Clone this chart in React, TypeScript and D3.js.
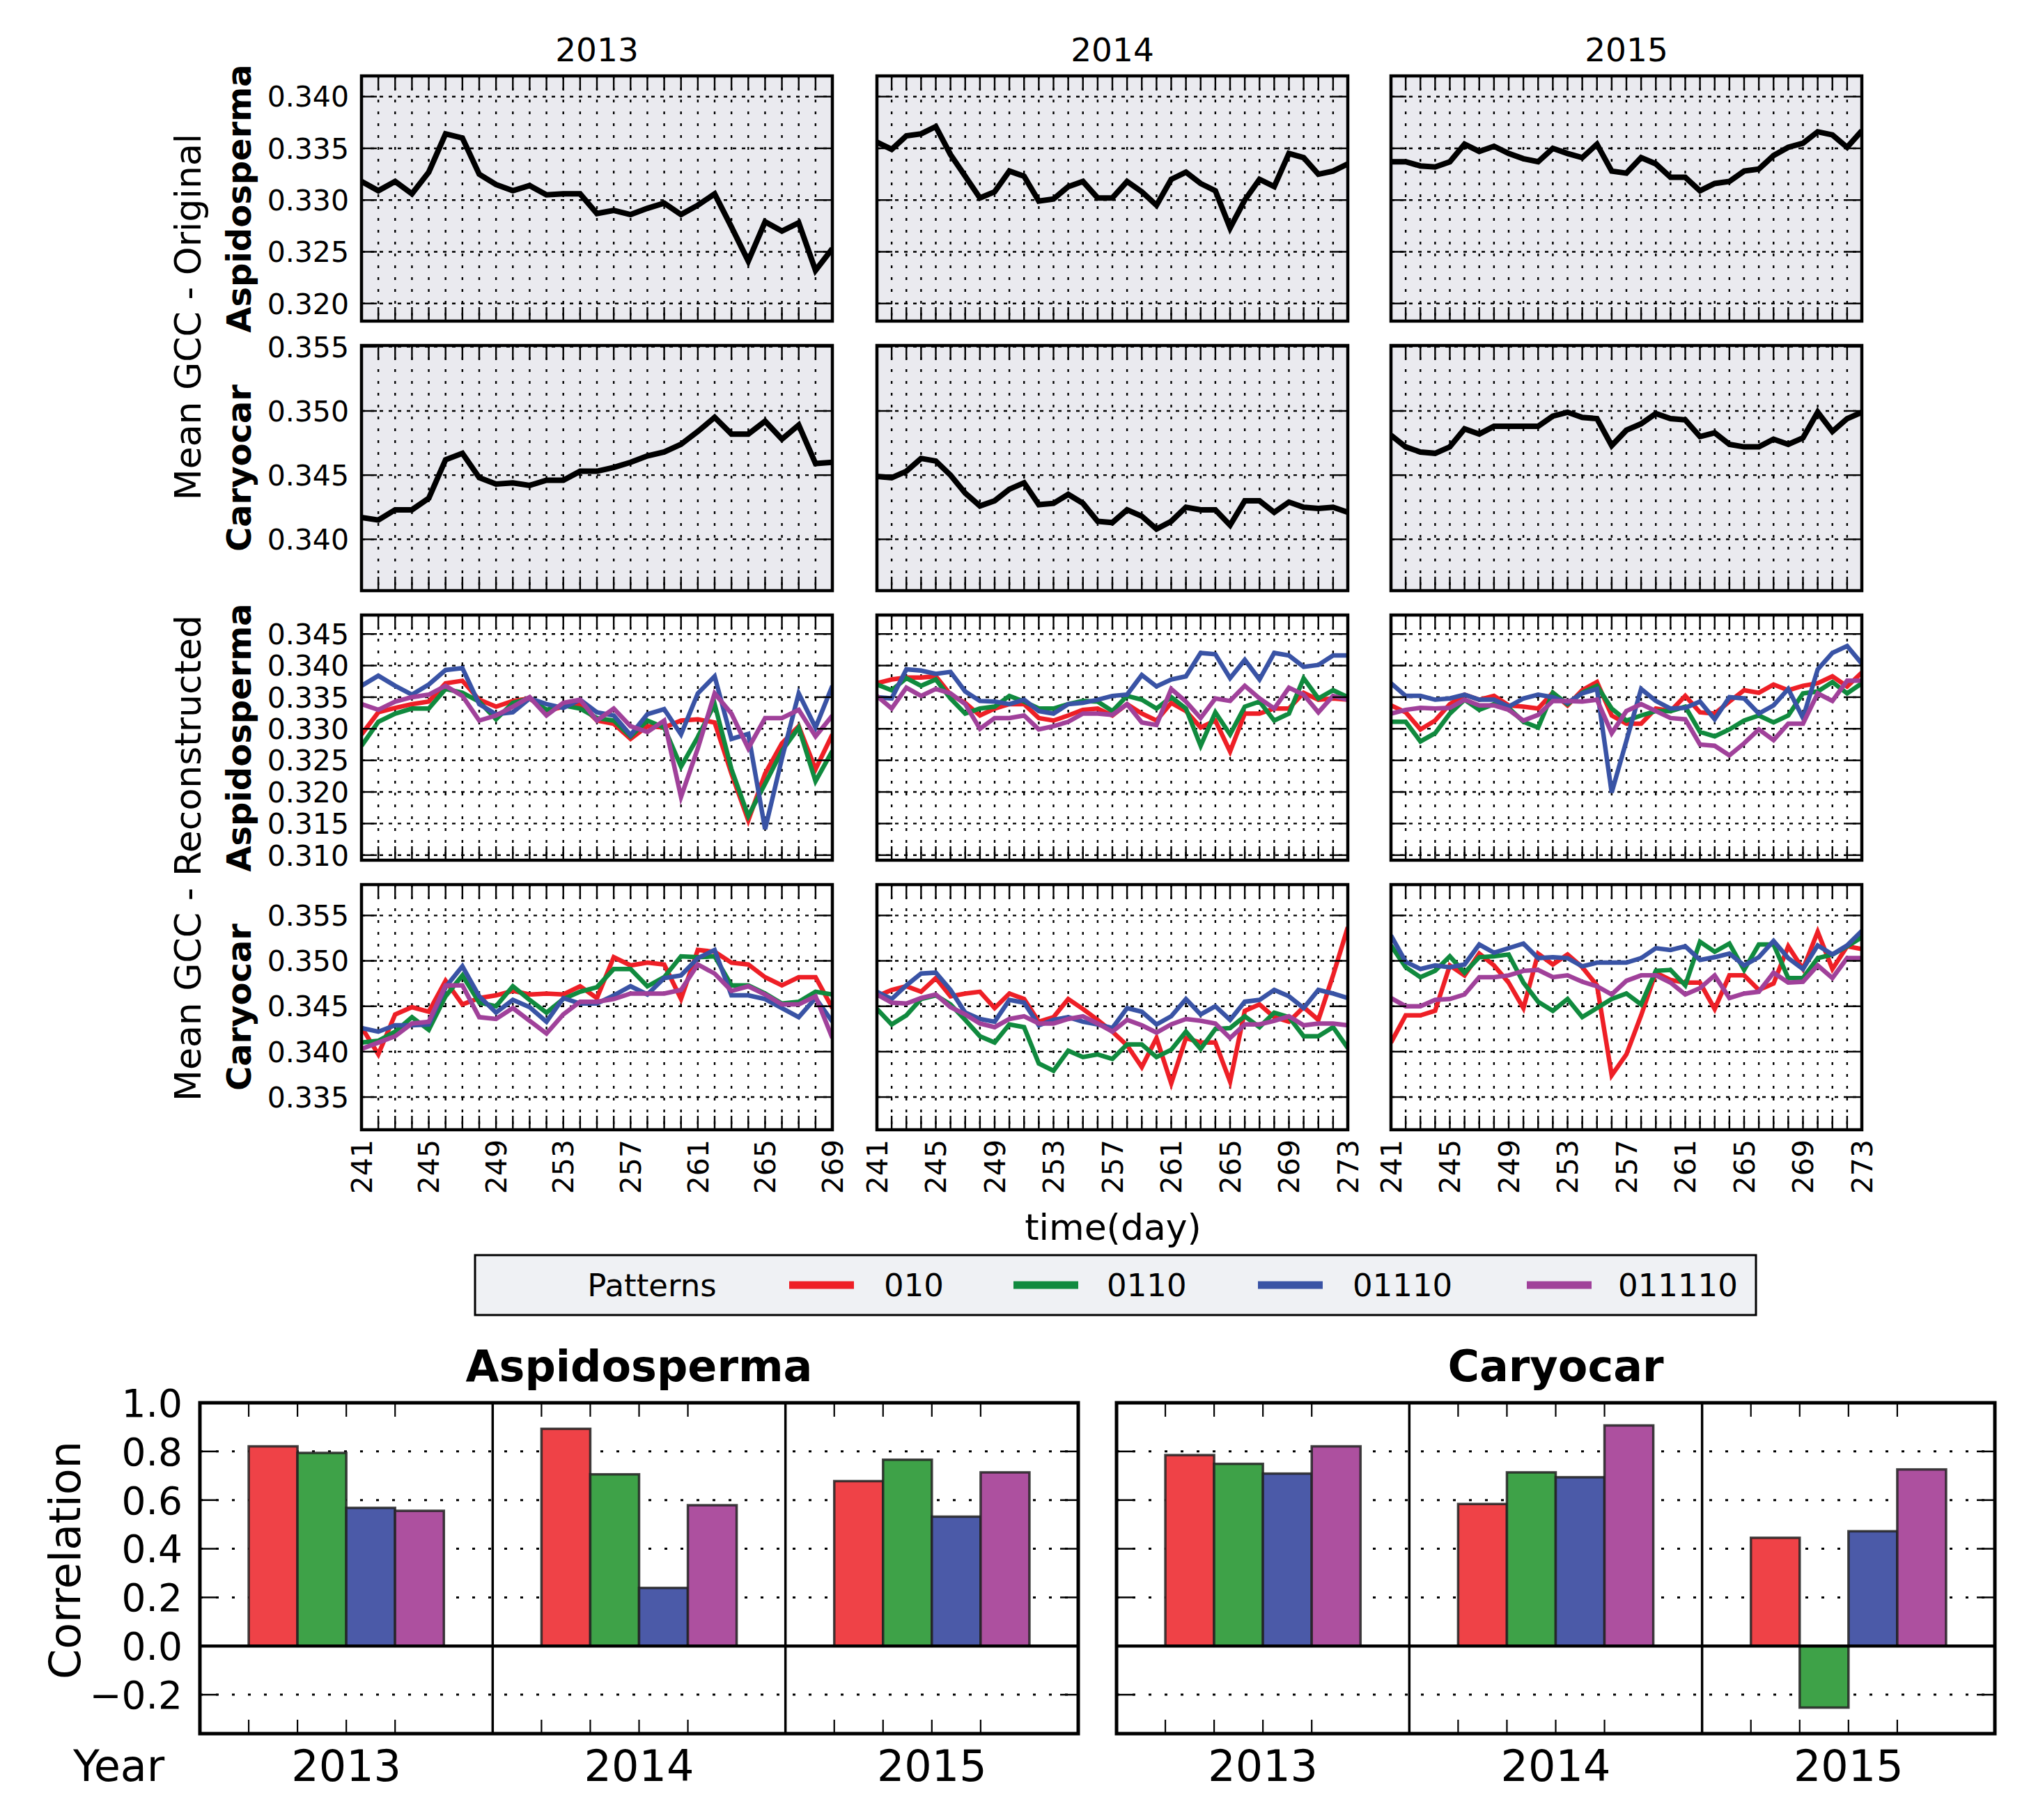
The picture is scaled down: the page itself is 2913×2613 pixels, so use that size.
import React from "react";
import * as d3 from "d3";

const W = 2913;
const H = 2613;
const FONT = "DejaVu Sans, Verdana, sans-serif";

const years = ["2013", "2014", "2015"];
const dayStart = [241, 241, 241];
const dayEnd = [269, 273, 273];
const patterns = ["010", "0110", "01110", "011110"];
const lineColors = ["#ee1f26", "#108a3e", "#3953a5", "#a0419a"];
const barColors = ["#ef4247", "#3ea248", "#4b5aa8", "#ad509f"];
const speciesNames = ["Aspidosperma", "Caryocar"];

// ---- Original mean GCC ----
const aspOrig2013 = [0.3318, 0.3309, 0.3318, 0.3306, 0.3327, 0.3364, 0.336, 0.3325, 0.3315, 0.3309, 0.3314, 0.3305, 0.3306, 0.3306, 0.3287, 0.329, 0.3286, 0.3292, 0.3297, 0.3286, 0.3295, 0.3306, 0.3274, 0.3241, 0.3279, 0.327, 0.3278, 0.3232, 0.3253];
const aspOrig2014 = [0.3356, 0.3349, 0.3362, 0.3364, 0.3371, 0.3344, 0.3323, 0.3302, 0.3308, 0.3328, 0.3323, 0.3299, 0.3301, 0.3313, 0.3318, 0.3302, 0.3302, 0.3318, 0.3308, 0.3295, 0.332, 0.3327, 0.3316, 0.3309, 0.3273, 0.33, 0.332, 0.3313, 0.3345, 0.3341, 0.3325, 0.3328, 0.3335];
const aspOrig2015 = [0.3337, 0.3337, 0.3333, 0.3332, 0.3337, 0.3354, 0.3347, 0.3352, 0.3345, 0.334, 0.3337, 0.335, 0.3345, 0.3341, 0.3354, 0.3328, 0.3326, 0.3341, 0.3335, 0.3322, 0.3322, 0.3309, 0.3316, 0.3318, 0.3328, 0.333, 0.3343, 0.3351, 0.3355, 0.3366, 0.3363, 0.3351, 0.3367];
const caryOrig2013 = [0.3417, 0.3415, 0.3423, 0.3423, 0.3432, 0.3462, 0.3467, 0.3448, 0.3443, 0.3444, 0.3442, 0.3446, 0.3446, 0.3453, 0.3453, 0.3456, 0.346, 0.3465, 0.3468, 0.3474, 0.3484, 0.3495, 0.3482, 0.3482, 0.3492, 0.3478, 0.3489, 0.3459, 0.346];
const caryOrig2014 = [0.3449, 0.3448, 0.3453, 0.3463, 0.3461, 0.345, 0.3436, 0.3426, 0.343, 0.3439, 0.3444, 0.3427, 0.3428, 0.3435, 0.3428, 0.3414, 0.3413, 0.3423, 0.3418, 0.3408, 0.3414, 0.3425, 0.3423, 0.3423, 0.3411, 0.343, 0.343, 0.3421, 0.3429, 0.3425, 0.3424, 0.3425, 0.3421];
const caryOrig2015 = [0.3481, 0.3472, 0.3468, 0.3467, 0.3472, 0.3486, 0.3482, 0.3488, 0.3488, 0.3488, 0.3488, 0.3496, 0.3499, 0.3495, 0.3494, 0.3473, 0.3485, 0.349, 0.3498, 0.3494, 0.3493, 0.348, 0.3483, 0.3474, 0.3472, 0.3472, 0.3478, 0.3474, 0.3479, 0.3499, 0.3484, 0.3494, 0.3499];

// ---- Reconstructed, Aspidosperma ----
const aspRec2013_010 = [0.3291, 0.3326, 0.3333, 0.3339, 0.3343, 0.3372, 0.3376, 0.3346, 0.3335, 0.3344, 0.3348, 0.3328, 0.3335, 0.3339, 0.3313, 0.3308, 0.3284, 0.3304, 0.3302, 0.3313, 0.3315, 0.331, 0.3229, 0.3155, 0.3229, 0.3277, 0.3304, 0.3236, 0.3291];
const aspRec2013_0110 = [0.3273, 0.3311, 0.3324, 0.3332, 0.3332, 0.3363, 0.3357, 0.3343, 0.3315, 0.3341, 0.3348, 0.333, 0.3337, 0.3332, 0.3317, 0.3313, 0.3288, 0.3313, 0.3302, 0.324, 0.3287, 0.3339, 0.3236, 0.3162, 0.3213, 0.3265, 0.3302, 0.3217, 0.3265];
const aspRec2013_01110 = [0.3368, 0.3384, 0.3368, 0.3354, 0.337, 0.3393, 0.3396, 0.3339, 0.3323, 0.3326, 0.3348, 0.3339, 0.3333, 0.3346, 0.3326, 0.3321, 0.329, 0.3323, 0.3331, 0.3291, 0.3356, 0.3383, 0.3284, 0.3292, 0.3141, 0.3253, 0.3356, 0.3302, 0.3368];
const aspRec2013_011110 = [0.3339, 0.333, 0.3343, 0.335, 0.3354, 0.3368, 0.3352, 0.3313, 0.3321, 0.3335, 0.335, 0.3321, 0.3341, 0.3346, 0.3313, 0.3332, 0.3304, 0.3295, 0.3313, 0.3192, 0.3269, 0.3356, 0.3324, 0.3269, 0.3317, 0.3317, 0.333, 0.3288, 0.3321];

const aspRec2014_010 = [0.3372, 0.3378, 0.3381, 0.3381, 0.3383, 0.3354, 0.3341, 0.3321, 0.3332, 0.3339, 0.3339, 0.3317, 0.3313, 0.3321, 0.333, 0.3332, 0.3321, 0.3339, 0.3324, 0.3313, 0.3341, 0.3328, 0.3302, 0.3313, 0.3264, 0.3324, 0.3324, 0.3332, 0.3332, 0.3357, 0.3346, 0.3348, 0.3346];
const aspRec2014_0110 = [0.337, 0.3361, 0.338, 0.3368, 0.3378, 0.3348, 0.3324, 0.3332, 0.3335, 0.3352, 0.3343, 0.3332, 0.3332, 0.3339, 0.3344, 0.3343, 0.3328, 0.3352, 0.3346, 0.3332, 0.335, 0.3332, 0.3273, 0.3326, 0.3291, 0.3335, 0.3343, 0.3313, 0.3324, 0.338, 0.3348, 0.3361, 0.335];
const aspRec2014_01110 = [0.335, 0.3348, 0.3394, 0.3392, 0.3387, 0.339, 0.3359, 0.3344, 0.3343, 0.3339, 0.3346, 0.3328, 0.3324, 0.3339, 0.3341, 0.3346, 0.3352, 0.3354, 0.3385, 0.3367, 0.3378, 0.3383, 0.342, 0.3418, 0.338, 0.3409, 0.3378, 0.342, 0.3416, 0.3398, 0.3401, 0.3416, 0.3416];
const aspRec2014_011110 = [0.3352, 0.3332, 0.3365, 0.3352, 0.3363, 0.3356, 0.3339, 0.33, 0.3317, 0.3317, 0.3321, 0.3299, 0.3304, 0.3311, 0.3324, 0.3324, 0.3322, 0.3339, 0.331, 0.3306, 0.3363, 0.3343, 0.3317, 0.3348, 0.3344, 0.3368, 0.3348, 0.3332, 0.3365, 0.3354, 0.3326, 0.3352, 0.3346];

const aspRec2015_010 = [0.3337, 0.3326, 0.3299, 0.3313, 0.3339, 0.3354, 0.3346, 0.3352, 0.3337, 0.3335, 0.3332, 0.3357, 0.3337, 0.3361, 0.3374, 0.3321, 0.3308, 0.3308, 0.3332, 0.3328, 0.3352, 0.3326, 0.3324, 0.3343, 0.3361, 0.3357, 0.337, 0.3361, 0.3368, 0.3372, 0.3383, 0.3367, 0.3389];
const aspRec2015_0110 = [0.3311, 0.3311, 0.328, 0.3293, 0.3324, 0.3346, 0.333, 0.3339, 0.3333, 0.3311, 0.3302, 0.3357, 0.3339, 0.3357, 0.3368, 0.3332, 0.3313, 0.3321, 0.3328, 0.3328, 0.3335, 0.3295, 0.3288, 0.3299, 0.3313, 0.3321, 0.331, 0.3321, 0.3356, 0.3359, 0.3374, 0.3356, 0.3372];
const aspRec2015_01110 = [0.3372, 0.3352, 0.3352, 0.3346, 0.3348, 0.3354, 0.3346, 0.3346, 0.3335, 0.3348, 0.3354, 0.335, 0.3341, 0.3356, 0.3363, 0.3199, 0.3281, 0.3363, 0.3344, 0.3332, 0.3333, 0.3343, 0.3315, 0.335, 0.3348, 0.3324, 0.3337, 0.3363, 0.3317, 0.3394, 0.342, 0.3431, 0.3403];
const aspRec2015_011110 = [0.3324, 0.333, 0.3333, 0.3332, 0.3333, 0.3346, 0.3337, 0.3337, 0.333, 0.3313, 0.3322, 0.3344, 0.3344, 0.3343, 0.3346, 0.3293, 0.3328, 0.3339, 0.3328, 0.3317, 0.3315, 0.3275, 0.3273, 0.3258, 0.3277, 0.3299, 0.3282, 0.3308, 0.3308, 0.3356, 0.3344, 0.3376, 0.3376];

// ---- Reconstructed, Caryocar ----
const caryRec2013_010 = [0.3427, 0.3397, 0.3441, 0.3449, 0.3444, 0.3478, 0.3452, 0.3459, 0.3462, 0.3467, 0.3463, 0.3464, 0.3463, 0.3472, 0.3459, 0.3504, 0.3495, 0.3498, 0.3496, 0.3458, 0.3512, 0.351, 0.3498, 0.3496, 0.3482, 0.3473, 0.3482, 0.3482, 0.3448];
const caryRec2013_0110 = [0.341, 0.3412, 0.3422, 0.3438, 0.3424, 0.3461, 0.3484, 0.3454, 0.345, 0.3472, 0.3457, 0.3443, 0.3458, 0.3466, 0.3471, 0.3491, 0.3491, 0.3472, 0.3482, 0.3505, 0.3504, 0.3505, 0.3473, 0.3473, 0.3464, 0.3453, 0.3455, 0.3466, 0.3463];
const caryRec2013_01110 = [0.3426, 0.3422, 0.3429, 0.3429, 0.343, 0.3471, 0.3494, 0.3461, 0.3443, 0.3457, 0.3449, 0.3433, 0.3459, 0.3453, 0.3453, 0.3462, 0.3472, 0.3463, 0.3481, 0.3484, 0.3503, 0.3512, 0.3462, 0.3462, 0.3458, 0.3448, 0.3438, 0.3459, 0.3433];
const caryRec2013_011110 = [0.3403, 0.341, 0.3417, 0.3431, 0.3433, 0.3473, 0.3473, 0.3438, 0.3436, 0.3448, 0.3434, 0.342, 0.3441, 0.3455, 0.3455, 0.3458, 0.3464, 0.3464, 0.3464, 0.3468, 0.3496, 0.3486, 0.3467, 0.3472, 0.3463, 0.3452, 0.3452, 0.3461, 0.3415];

const caryRec2014_010 = [0.3461, 0.3468, 0.3472, 0.3466, 0.3481, 0.3461, 0.3464, 0.3466, 0.3448, 0.3464, 0.3458, 0.3433, 0.3438, 0.3458, 0.3447, 0.3435, 0.3422, 0.3407, 0.3383, 0.3415, 0.3365, 0.3415, 0.341, 0.341, 0.3367, 0.3445, 0.3452, 0.3438, 0.3433, 0.3449, 0.3435, 0.3484, 0.3537];
const caryRec2014_0110 = [0.3447, 0.343, 0.344, 0.3458, 0.3462, 0.3452, 0.3435, 0.3417, 0.341, 0.343, 0.3427, 0.3387, 0.3379, 0.3401, 0.3394, 0.3397, 0.3392, 0.3408, 0.3408, 0.3394, 0.3402, 0.3422, 0.3403, 0.3425, 0.3426, 0.3439, 0.3427, 0.3443, 0.3438, 0.3417, 0.3417, 0.3427, 0.3404];
const caryRec2014_01110 = [0.3466, 0.3458, 0.3473, 0.3486, 0.3487, 0.3468, 0.3443, 0.3436, 0.3433, 0.3457, 0.3454, 0.3429, 0.3435, 0.3438, 0.3433, 0.343, 0.3426, 0.3448, 0.3444, 0.343, 0.3439, 0.3458, 0.3441, 0.345, 0.3435, 0.3455, 0.3457, 0.3468, 0.3461, 0.3448, 0.3468, 0.3464, 0.3459];
const caryRec2014_011110 = [0.3463, 0.3454, 0.3453, 0.3459, 0.3463, 0.3449, 0.3441, 0.3431, 0.3427, 0.3436, 0.3439, 0.3431, 0.3431, 0.3436, 0.3439, 0.3431, 0.3422, 0.3435, 0.3429, 0.3421, 0.343, 0.3436, 0.3434, 0.3431, 0.3415, 0.343, 0.343, 0.3434, 0.3439, 0.3429, 0.3431, 0.3431, 0.3429];

const caryRec2015_010 = [0.341, 0.344, 0.344, 0.3445, 0.3495, 0.3484, 0.3508, 0.3495, 0.3476, 0.3448, 0.3508, 0.3496, 0.3507, 0.3493, 0.3473, 0.3374, 0.3397, 0.344, 0.3487, 0.3479, 0.3476, 0.3476, 0.3447, 0.3484, 0.3484, 0.3468, 0.3475, 0.3516, 0.3491, 0.3532, 0.3491, 0.3516, 0.3513];
const caryRec2015_0110 = [0.3517, 0.3493, 0.3482, 0.3489, 0.3505, 0.3487, 0.3504, 0.3505, 0.3507, 0.3476, 0.3455, 0.3445, 0.3458, 0.3438, 0.3448, 0.3458, 0.3464, 0.3452, 0.3489, 0.349, 0.3473, 0.3521, 0.351, 0.3519, 0.349, 0.3518, 0.3518, 0.3481, 0.3481, 0.3503, 0.3507, 0.3516, 0.3526];
const caryRec2015_01110 = [0.3528, 0.3499, 0.3491, 0.3495, 0.3493, 0.3496, 0.3518, 0.3509, 0.3514, 0.3519, 0.3503, 0.3504, 0.3503, 0.3494, 0.3498, 0.3498, 0.3498, 0.3503, 0.3514, 0.3512, 0.3516, 0.3501, 0.3504, 0.3508, 0.3495, 0.3504, 0.3522, 0.3503, 0.3491, 0.3517, 0.3507, 0.3517, 0.3533];
const caryRec2015_011110 = [0.3459, 0.345, 0.345, 0.3457, 0.3458, 0.3463, 0.3482, 0.3482, 0.3484, 0.3489, 0.349, 0.3482, 0.3484, 0.3477, 0.3472, 0.3463, 0.3478, 0.3484, 0.3484, 0.3476, 0.3463, 0.347, 0.3484, 0.3459, 0.3464, 0.3466, 0.3487, 0.3476, 0.3477, 0.3495, 0.3481, 0.3503, 0.3503];

// ---- Correlations (per pattern, values for 2013, 2014, 2015) ----
const corrAsp_010 = [0.821, 0.893, 0.678];
const corrAsp_0110 = [0.794, 0.706, 0.766];
const corrAsp_01110 = [0.568, 0.239, 0.532];
const corrAsp_011110 = [0.556, 0.579, 0.714];
const corrCary_010 = [0.785, 0.584, 0.445];
const corrCary_0110 = [0.749, 0.714, -0.253];
const corrCary_01110 = [0.709, 0.694, 0.472];
const corrCary_011110 = [0.821, 0.907, 0.726];

// tick values
const rowTicks = [
  [0.32, 0.325, 0.33, 0.335, 0.34],
  [0.34, 0.345, 0.35, 0.355],
  [0.31, 0.315, 0.32, 0.325, 0.33, 0.335, 0.34, 0.345],
  [0.335, 0.34, 0.345, 0.35, 0.355],
];
const rowDomains = [
  [0.3183, 0.342],
  [0.336, 0.3551],
  [0.3092, 0.348],
  [0.3314, 0.3584],
];
const corrTicks = [-0.2, 0, 0.2, 0.4, 0.6, 0.8, 1.0];

// ---- assembled ----
const origData = [
  [aspOrig2013, aspOrig2014, aspOrig2015],
  [caryOrig2013, caryOrig2014, caryOrig2015],
];
const recData = [
  [
    [aspRec2013_010, aspRec2013_0110, aspRec2013_01110, aspRec2013_011110],
    [aspRec2014_010, aspRec2014_0110, aspRec2014_01110, aspRec2014_011110],
    [aspRec2015_010, aspRec2015_0110, aspRec2015_01110, aspRec2015_011110],
  ],
  [
    [caryRec2013_010, caryRec2013_0110, caryRec2013_01110, caryRec2013_011110],
    [caryRec2014_010, caryRec2014_0110, caryRec2014_01110, caryRec2014_011110],
    [caryRec2015_010, caryRec2015_0110, caryRec2015_01110, caryRec2015_011110],
  ],
];
const corrData = [
  [corrAsp_010, corrAsp_0110, corrAsp_01110, corrAsp_011110],
  [corrCary_010, corrCary_0110, corrCary_01110, corrCary_011110],
];

// ---- layout ----
const colX = [519, 1259, 1997];
const panelW = 676;
const rowY = [109, 496, 883, 1270];
const panelH = 352;
const TICK = 20;

function LinePanel({ row, col, series }: { row: number; col: number; series: { values: number[]; color: string; width: number }[] }) {
  const x0 = colX[col];
  const y0 = rowY[row];
  const x = d3.scaleLinear().domain([dayStart[col], dayEnd[col]]).range([x0, x0 + panelW]);
  const y = d3.scaleLinear().domain(rowDomains[row]).range([y0 + panelH, y0]);
  const days = d3.range(dayStart[col], dayEnd[col] + 1);
  const line = d3
    .line<number>()
    .x((_, i) => x(days[i]))
    .y((v) => y(v));
  const clipId = `clip-${row}-${col}`;
  const bg = row < 2 ? "#eaeaef" : "#ffffff";
  const fmt = d3.format(".3f");
  return (
    <g>
      <defs>
        <clipPath id={clipId}>
          <rect x={x0} y={y0} width={panelW} height={panelH} />
        </clipPath>
      </defs>
      <rect x={x0} y={y0} width={panelW} height={panelH} fill={bg} />
      {days.slice(1, -1).map((d) => (
        <line key={"gv" + d} x1={x(d)} x2={x(d)} y1={y0} y2={y0 + panelH} stroke="#000" strokeWidth={2.4} strokeDasharray="4,13" />
      ))}
      {rowTicks[row].map((t) => (
        <line key={"gh" + t} x1={x0} x2={x0 + panelW} y1={y(t)} y2={y(t)} stroke="#000" strokeWidth={2.4} strokeDasharray="5,8" />
      ))}
      <g clipPath={`url(#${clipId})`}>
        {series.map((s, i) => (
          <path key={i} d={line(s.values) || ""} fill="none" stroke={s.color} strokeWidth={s.width} strokeLinejoin="miter" />
        ))}
      </g>
      {days.map((d) => (
        <g key={"t" + d}>
          <line x1={x(d)} x2={x(d)} y1={y0} y2={y0 + TICK} stroke="#000" strokeWidth={2.4} />
          <line x1={x(d)} x2={x(d)} y1={y0 + panelH} y2={y0 + panelH - TICK} stroke="#000" strokeWidth={2.4} />
        </g>
      ))}
      {rowTicks[row].map((t) => (
        <g key={"yt" + t}>
          <line x1={x0} x2={x0 + TICK + 2} y1={y(t)} y2={y(t)} stroke="#000" strokeWidth={2.4} />
          <line x1={x0 + panelW} x2={x0 + panelW - TICK - 2} y1={y(t)} y2={y(t)} stroke="#000" strokeWidth={2.4} />
          {col === 0 && (
            <text x={x0 - 18} y={y(t)} dy="0.36em" textAnchor="end" fontSize={41} fontFamily={FONT}>
              {fmt(t)}
            </text>
          )}
        </g>
      ))}
      <rect x={x0} y={y0} width={panelW} height={panelH} fill="none" stroke="#000" strokeWidth={4.5} />
      {row === 3 &&
        d3.range(dayStart[col], dayEnd[col] + 1, 4).map((d) => (
          <text key={"xl" + d} transform={`translate(${x(d)},${y0 + panelH + 14}) rotate(-90)`} dy="0.36em" textAnchor="end" fontSize={41} fontFamily={FONT}>
            {d}
          </text>
        ))}
      {row === 0 && (
        <text x={x0 + panelW / 2} y={y0 - 21} textAnchor="middle" fontSize={47} fontFamily={FONT}>
          {years[col]}
        </text>
      )}
    </g>
  );
}

const barLeft = [287, 1603];
const barWidth = 1261;
const barTop = 2014;
const barBottom = 2489;

function BarChart({ s }: { s: number }) {
  const x0 = barLeft[s];
  const sw = barWidth / 3;
  const y = d3.scaleLinear().domain([-0.36, 1.0]).range([barBottom, barTop]);
  const fmt = (v: number) => (v < 0 ? "\u2212" + Math.abs(v).toFixed(1) : v.toFixed(1));
  return (
    <g>
      <rect x={x0} y={barTop} width={barWidth} height={barBottom - barTop} fill="#fff" />
      {corrTicks
        .filter((t) => t !== 0)
        .map((t) => (
          <line key={"g" + t} x1={x0} x2={x0 + barWidth} y1={y(t)} y2={y(t)} stroke="#000" strokeWidth={3} strokeDasharray="4,19" />
        ))}
      {years.map((yr, i) => {
        const xs = d3.scaleLinear().domain([0, 6]).range([x0 + i * sw, x0 + (i + 1) * sw]);
        return (
          <g key={yr}>
            {patterns.map((p, j) => {
              const v = corrData[s][j][i];
              const ya = y(Math.max(v, 0));
              const yb = y(Math.min(v, 0));
              return (
                <rect
                  key={p}
                  x={xs(j + 1)}
                  y={ya}
                  width={xs(j + 2) - xs(j + 1)}
                  height={yb - ya}
                  fill={barColors[j]}
                  stroke="#222"
                  strokeOpacity={0.85}
                  strokeWidth={3.5}
                />
              );
            })}
            {[1, 2, 3, 4].map((k) => (
              <g key={k}>
                <line x1={xs(k)} x2={xs(k)} y1={barTop} y2={barTop + TICK} stroke="#000" strokeWidth={2.2} />
                <line x1={xs(k)} x2={xs(k)} y1={barBottom} y2={barBottom - TICK} stroke="#000" strokeWidth={2.2} />
              </g>
            ))}
            {i > 0 && <line x1={x0 + i * sw} x2={x0 + i * sw} y1={barTop} y2={barBottom} stroke="#000" strokeWidth={3.5} />}
            <text x={x0 + (i + 0.5) * sw} y={2557} textAnchor="middle" fontSize={62} fontFamily={FONT}>
              {yr}
            </text>
          </g>
        );
      })}
      <line x1={x0} x2={x0 + barWidth} y1={y(0)} y2={y(0)} stroke="#000" strokeWidth={4.5} />
      {corrTicks.map((t) => (
        <g key={"yt" + t}>
          <line x1={x0} x2={x0 + 26} y1={y(t)} y2={y(t)} stroke="#000" strokeWidth={2.5} />
          <line x1={x0 + barWidth} x2={x0 + barWidth - 26} y1={y(t)} y2={y(t)} stroke="#000" strokeWidth={2.5} />
          {s === 0 && (
            <text x={262} y={y(t)} dy="0.36em" textAnchor="end" fontSize={55} fontFamily={FONT}>
              {fmt(t)}
            </text>
          )}
        </g>
      ))}
      <rect x={x0} y={barTop} width={barWidth} height={barBottom - barTop} fill="none" stroke="#000" strokeWidth={5} />
      <text x={x0 + barWidth / 2} y={1983} textAnchor="middle" fontSize={62} fontWeight="bold" fontFamily={FONT}>
        {speciesNames[s]}
      </text>
    </g>
  );
}

export default function App() {
  const panels: React.ReactNode[] = [];
  for (let row = 0; row < 4; row++) {
    for (let col = 0; col < 3; col++) {
      const sp = row % 2;
      let series;
      if (row < 2) {
        series = [{ values: origData[sp][col], color: "#000", width: 8 }];
      } else {
        series = patterns.map((p, j) => ({ values: recData[sp][col][j], color: lineColors[j], width: 6.5 }));
      }
      panels.push(<LinePanel key={`${row}-${col}`} row={row} col={col} series={series} />);
    }
  }
  const rowCenter = (r: number) => rowY[r] + panelH / 2;
  const legendItems = [
    { lx: 1133, tx: 1269 },
    { lx: 1455, tx: 1589 },
    { lx: 1806, tx: 1942 },
    { lx: 2192, tx: 2323 },
  ];
  return (
    <svg width={W} height={H} viewBox={`0 0 ${W} ${H}`} style={{ position: "absolute", left: 0, top: 0, background: "#fff" }} xmlns="http://www.w3.org/2000/svg">
      <rect x={0} y={0} width={W} height={H} fill="#fff" />
      {panels}
      {/* y labels */}
      <text transform={`translate(288,455) rotate(-90)`} textAnchor="middle" fontSize={52} fontFamily={FONT}>
        Mean GCC - Original
      </text>
      <text transform={`translate(288,1232) rotate(-90)`} textAnchor="middle" fontSize={52} fontFamily={FONT}>
        Mean GCC - Reconstructed
      </text>
      {[0, 1, 2, 3].map((r) => (
        <text key={"sl" + r} transform={`translate(360,${rowCenter(r)}) rotate(-90)`} textAnchor="middle" fontSize={48} fontWeight="bold" fontFamily={FONT}>
          {speciesNames[r % 2]}
        </text>
      ))}
      <text x={1598} y={1780} textAnchor="middle" fontSize={52} fontFamily={FONT}>
        time(day)
      </text>
      {/* legend */}
      <rect x={682} y={1802} width={1839} height={86} fill="#eff1f4" stroke="#000" strokeWidth={3} />
      <text x={936} y={1845} dy="0.36em" textAnchor="middle" fontSize={45} fontFamily={FONT}>
        Patterns
      </text>
      {legendItems.map((it, j) => (
        <g key={"lg" + j}>
          <line x1={it.lx} x2={it.lx + 93} y1={1845} y2={1845} stroke={lineColors[j]} strokeWidth={11} />
          <text x={it.tx} y={1845} dy="0.36em" fontSize={45} fontFamily={FONT}>
            {patterns[j]}
          </text>
        </g>
      ))}
      {/* bar charts */}
      <BarChart s={0} />
      <BarChart s={1} />
      <text transform={`translate(115,2240) rotate(-90)`} textAnchor="middle" fontSize={62} fontFamily={FONT}>
        Correlation
      </text>
      <text x={105} y={2557} fontSize={62} fontFamily={FONT}>
        Year
      </text>
    </svg>
  );
}
